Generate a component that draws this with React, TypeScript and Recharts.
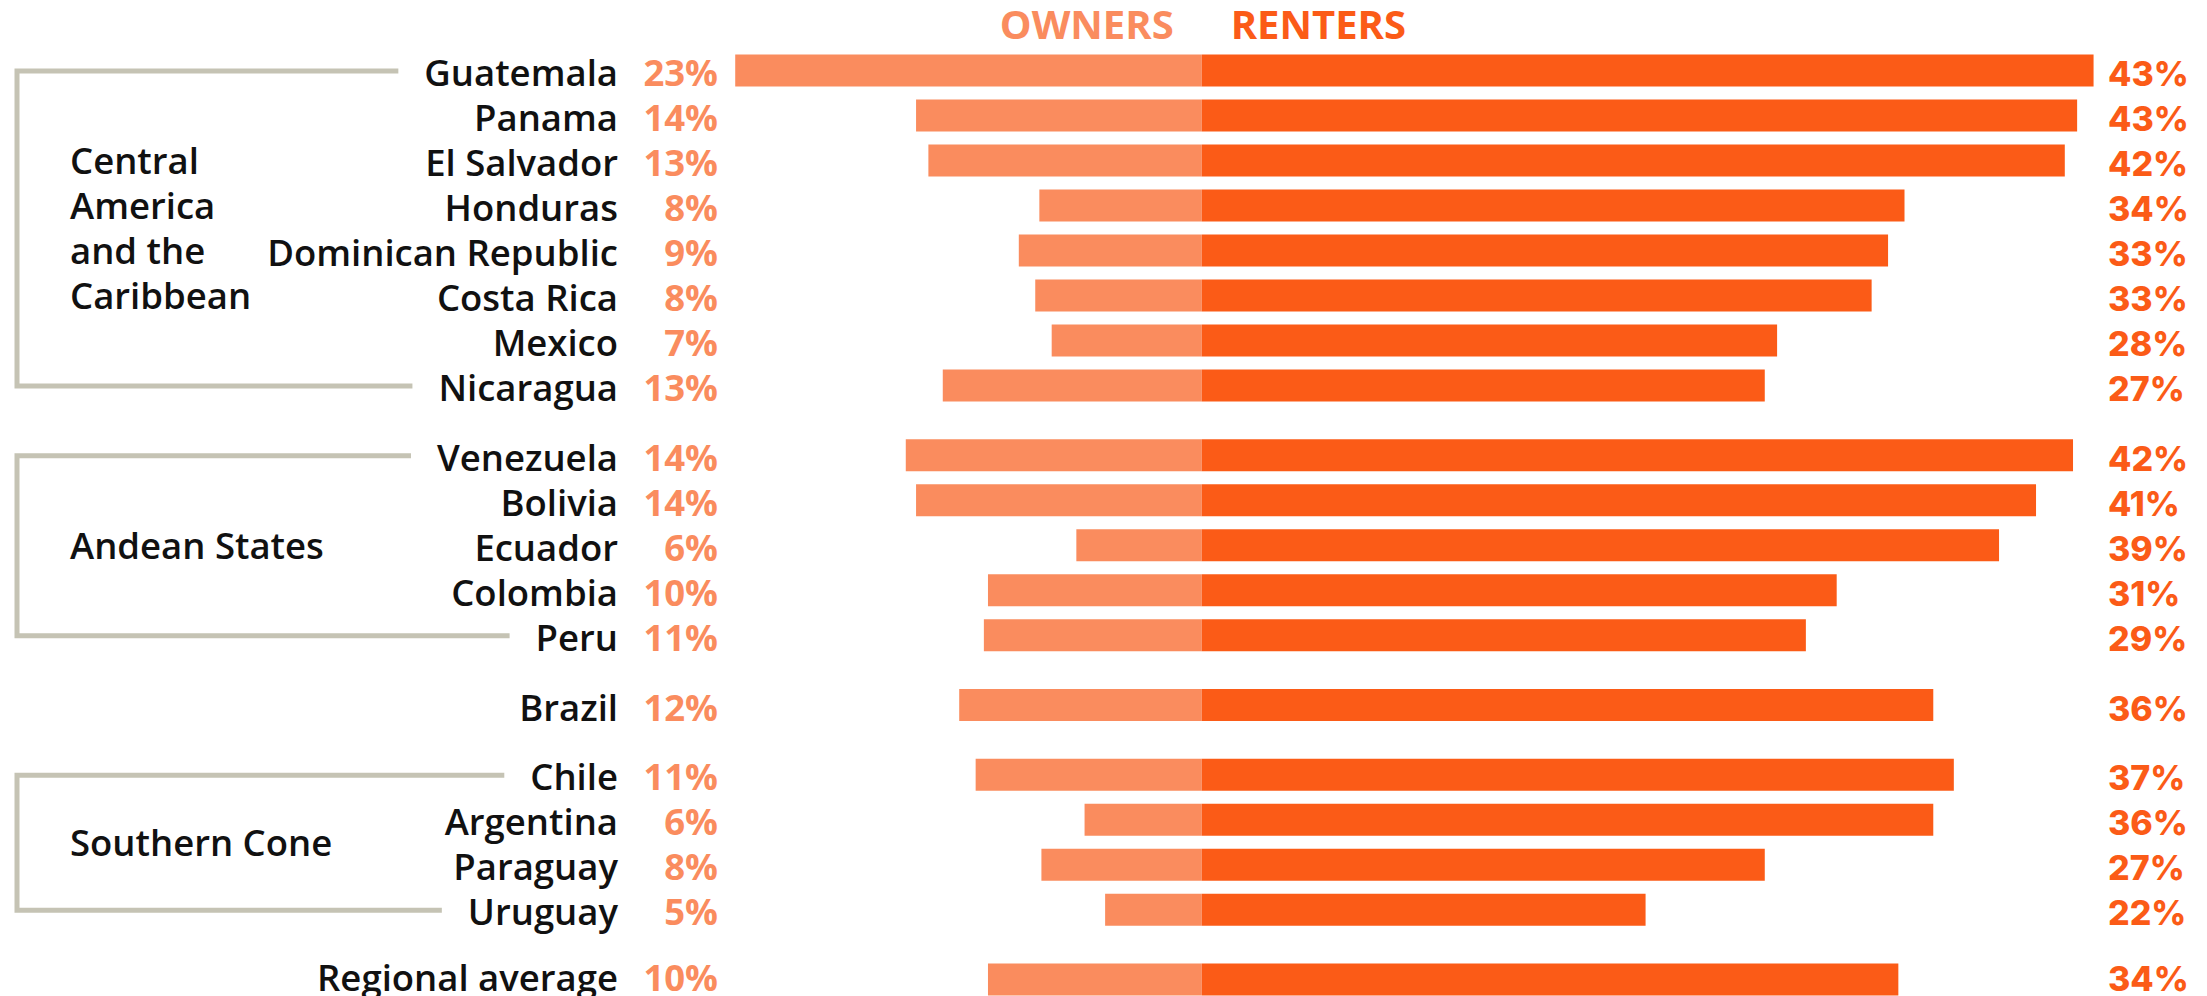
import React from 'react';
import { BarChart, Bar, XAxis, YAxis, ReferenceLine } from 'recharts';

// values, in %
const countries = [
  'Guatemala', 'Panama', 'El Salvador', 'Honduras', 'Dominican Republic', 'Costa Rica', 'Mexico', 'Nicaragua',
  'Venezuela', 'Bolivia', 'Ecuador', 'Colombia', 'Peru',
  'Brazil',
  'Chile', 'Argentina', 'Paraguay', 'Uruguay',
  'Regional average',
];
const groupIndex = [0, 0, 0, 0, 0, 0, 0, 0, 1, 1, 1, 1, 1, 2, 3, 3, 3, 3, 4];
const groupLabels = [['Central', 'America', 'and the', 'Caribbean'], ['Andean States'], [], ['Southern Cone'], []];
const ownersPct = [22.7, 13.9, 13.3, 7.9, 8.9, 8.1, 7.3, 12.6, 14.4, 13.9, 6.1, 10.4, 10.6, 11.8, 11.0, 5.7, 7.8, 4.7, 10.4];
const rentersPct = [43.4, 42.6, 42.0, 34.2, 33.4, 32.6, 28.0, 27.4, 42.4, 40.6, 38.8, 30.9, 29.4, 35.6, 36.6, 35.6, 27.4, 21.6, 33.9];
const seriesNames = ['OWNERS', 'RENTERS'];

const OWNERS_COLOR = '#fa8c5e';
const RENTERS_COLOR = '#fb5b17';
const BRACKET_COLOR = '#c5c3b4';
const TEXT_COLOR = '#111111';

// layout
const CHART_W = 2207;
const CHART_H = 996;
const ZERO_X = 1201.7;
const PX_PER_PCT = 20.55;
const X_DOMAIN: [number, number] = [-24, 44];
const LEFT_W = ZERO_X + X_DOMAIN[0] * PX_PER_PCT;
const RIGHT_W = CHART_W - (ZERO_X + X_DOMAIN[1] * PX_PER_PCT);
const ROW_STEP = 45;
const FIRST_ROW_Y = 71;
const Y_START = -0.5;
const TOP = FIRST_ROW_Y + Y_START * ROW_STEP;
const Y_DOMAIN: [number, number] = [Y_START, Y_START + (CHART_H - TOP) / ROW_STEP];
const GROUP_GAP = 0.55;

const NAME_X = 618;
const OWNERS_X = 718;
const RENTERS_X = 2108;
const GROUP_X = 70;
const BRACKET_X = 17;
const BRACKET_PAD = 26;

const NAME_FONT = { family: "'Open Sans', sans-serif", weight: 600, size: 36.5 };
const OWN_FONT = { family: "'Open Sans', sans-serif", weight: 700, size: 36.5 };
const RENT_FONT = { family: "Inter, sans-serif", weight: 800, size: 34 };

const rows = countries.map((name, i) => ({
  name,
  group: groupIndex[i],
  pos: i + groupIndex[i] * GROUP_GAP,
  owners: -ownersPct[i],
  renters: rentersPct[i],
  ownersLabel: `${Math.round(ownersPct[i])}%`,
  rentersLabel: `${Math.round(rentersPct[i])}%`,
}));
const positions = rows.map(r => r.pos);

let ctx: CanvasRenderingContext2D | null = null;
function textWidth(t: string, f: { family: string; weight: number; size: number }) {
  if (!ctx) ctx = document.createElement('canvas').getContext('2d');
  if (!ctx) return t.length * f.size * 0.55;
  ctx.font = `${f.weight} ${f.size}px ${f.family}`;
  return ctx.measureText(t).width;
}

const rowAt = (v: number) => rows.find(r => Math.abs(r.pos - v) < 1e-6);

function LeftTick({ y, payload }: any) {
  const row = rowAt(payload.value);
  if (!row) return null;
  const members = rows.filter(r => r.group === row.group);
  const lines = groupLabels[row.group];
  let bracket = null;
  if (lines.length && members[0] === row) {
    const last = members[members.length - 1];
    const span = (last.pos - row.pos) * ROW_STEP;
    const topEnd = NAME_X - textWidth(row.name, NAME_FONT) - BRACKET_PAD;
    const botEnd = NAME_X - textWidth(last.name, NAME_FONT) - BRACKET_PAD;
    const mid = y + span / 2;
    bracket = (
      <g>
        <path
          d={`M${topEnd},${y} H${BRACKET_X} V${y + span} H${botEnd}`}
          fill="none"
          stroke={BRACKET_COLOR}
          strokeWidth={5}
        />
        {lines.map((t, k) => (
          <text
            key={t}
            x={GROUP_X}
            y={mid + (k - (lines.length - 1) / 2) * ROW_STEP + 13}
            fill={TEXT_COLOR}
            fontFamily={NAME_FONT.family}
            fontWeight={NAME_FONT.weight}
            fontSize={NAME_FONT.size}
          >
            {t}
          </text>
        ))}
      </g>
    );
  }
  // the last row sits against the bottom edge, lift it a little
  const base = row.group === groupLabels.length - 1 ? 11 : 15;
  return (
    <g>
      {bracket}
      <text
        x={NAME_X}
        y={y + base}
        textAnchor="end"
        fill={TEXT_COLOR}
        fontFamily={NAME_FONT.family}
        fontWeight={NAME_FONT.weight}
        fontSize={NAME_FONT.size}
      >
        {row.name}
      </text>
      <text
        x={OWNERS_X}
        y={y + base}
        textAnchor="end"
        fill={OWNERS_COLOR}
        fontFamily={OWN_FONT.family}
        fontWeight={OWN_FONT.weight}
        fontSize={OWN_FONT.size}
      >
        {row.ownersLabel}
      </text>
    </g>
  );
}

function RightTick({ y, payload }: any) {
  const row = rowAt(payload.value);
  if (!row) return null;
  const base = row.group === groupLabels.length - 1 ? 11 : 15;
  return (
    <text
      x={RENTERS_X}
      y={y + base}
      fill={RENTERS_COLOR}
      fontFamily={RENT_FONT.family}
      fontWeight={RENT_FONT.weight}
      fontSize={RENT_FONT.size}
    >
      {row.rentersLabel}
    </text>
  );
}

function Header({ viewBox }: any) {
  const cx = viewBox && typeof viewBox.x === 'number' ? viewBox.x : ZERO_X;
  const common = { y: 39, fontFamily: "'Open Sans', sans-serif", fontWeight: 700, fontSize: 40 };
  return (
    <g>
      <text x={cx - 28} textAnchor="end" fill={OWNERS_COLOR} {...common}>{seriesNames[0]}</text>
      <text x={cx + 29} textAnchor="start" fill={RENTERS_COLOR} {...common}>{seriesNames[1]}</text>
    </g>
  );
}

export default function App() {
  return (
    <div style={{ width: CHART_W, height: CHART_H, background: '#fff' }}>
      <style>{'body{margin:0;background:#fff}'}</style>
      <BarChart
        width={CHART_W}
        height={CHART_H}
        data={rows}
        layout="vertical"
        stackOffset="sign"
        margin={{ top: TOP, right: 0, bottom: 0, left: 0 }}
      >
        <XAxis type="number" domain={X_DOMAIN} allowDataOverflow hide />
        <YAxis
          yAxisId="l"
          type="number"
          dataKey="pos"
          domain={Y_DOMAIN}
          allowDataOverflow
          ticks={positions}
          interval={0}
          width={LEFT_W}
          axisLine={false}
          tickLine={false}
          tick={<LeftTick />}
        />
        <YAxis
          yAxisId="r"
          orientation="right"
          type="number"
          dataKey="pos"
          domain={Y_DOMAIN}
          allowDataOverflow
          ticks={positions}
          interval={0}
          width={RIGHT_W}
          axisLine={false}
          tickLine={false}
          tick={<RightTick />}
        />
        <ReferenceLine yAxisId="l" x={0} stroke="none" label={<Header />} />
        <Bar yAxisId="l" dataKey="owners" stackId="s" fill={OWNERS_COLOR} barSize={32} isAnimationActive={false} />
        <Bar yAxisId="l" dataKey="renters" stackId="s" fill={RENTERS_COLOR} barSize={32} isAnimationActive={false} />
      </BarChart>
    </div>
  );
}
